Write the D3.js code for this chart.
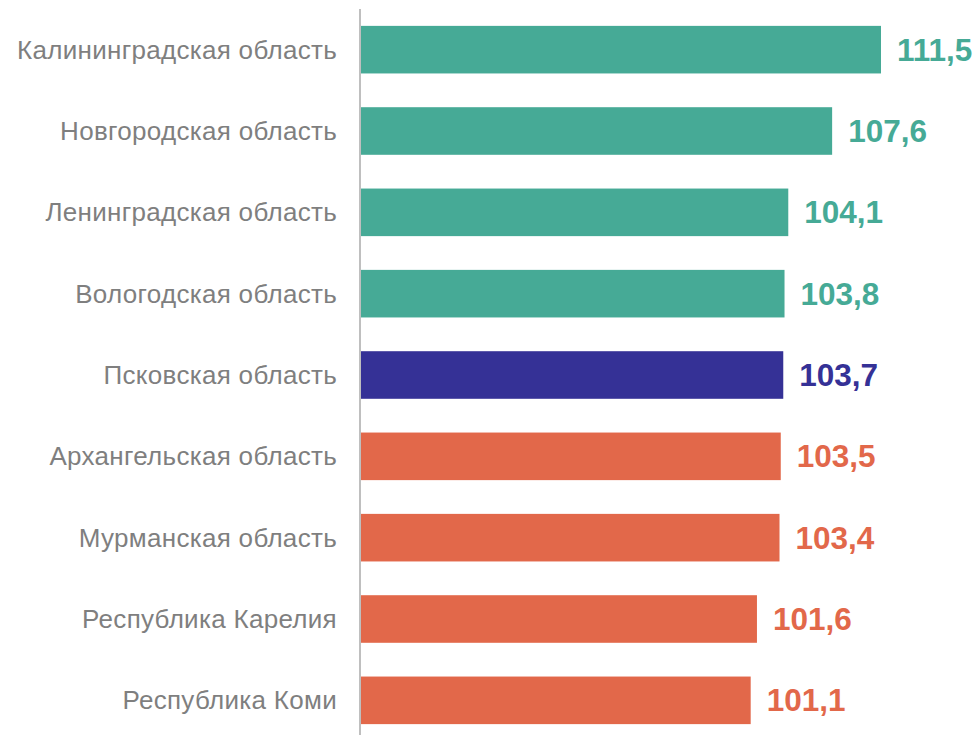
<!DOCTYPE html>
<html><head><meta charset="utf-8">
<script src="https://cdn.jsdelivr.net/npm/d3@7"></script>
<style>body{margin:0;background:#fff}</style>
</head><body>
<script>
const regions = ["Калининградская область","Новгородская область","Ленинградская область","Вологодская область","Псковская область","Архангельская область","Мурманская область","Республика Карелия","Республика Коми"];
const values = [111.5,107.6,104.1,103.8,103.7,103.5,103.4,101.6,101.1];
const groups = ["up","up","up","up","self","down","down","down","down"];
const colorMap = {up:"#46AA96", self:"#353196", down:"#E2684A"};

const W=979,H=735;
const svg=d3.select("body").append("svg").attr("width",W).attr("height",H);
const x=d3.scaleLinear().domain([70,111.5]).range([361,881]);
const y=d3.scaleBand().domain(regions).range([9,741]).paddingInner(0.415).paddingOuter(0.2075);

svg.selectAll("rect.bar").data(regions).join("rect")
  .attr("x",x(70)).attr("y",d=>y(d)).attr("height",y.bandwidth())
  .attr("width",(d,i)=>x(values[i])-x(70))
  .attr("fill",(d,i)=>colorMap[groups[i]]);

svg.append("line").attr("x1",360).attr("x2",360).attr("y1",9).attr("y2",735)
  .attr("stroke","#bfbfbf").attr("stroke-width",2);

svg.selectAll("text.lab").data(regions).join("text")
  .attr("x",337).attr("y",d=>y(d)+y.bandwidth()/2).attr("dy","0.35em")
  .attr("text-anchor","end").attr("font-family","Liberation Sans, Arial, sans-serif")
  .attr("font-size",26).attr("letter-spacing","0.3px").attr("fill","#7f7f7f").text(d=>d);

svg.selectAll("text.val").data(regions).join("text")
  .attr("x",(d,i)=>x(values[i])+16).attr("y",d=>y(d)+y.bandwidth()/2).attr("dy","0.35em")
  .attr("font-family","Liberation Sans, Arial, sans-serif").attr("font-weight","bold")
  .attr("font-size",31.5).attr("fill",(d,i)=>colorMap[groups[i]])
  .text((d,i)=>values[i].toFixed(1).replace(".",","));
</script>
</body></html>
